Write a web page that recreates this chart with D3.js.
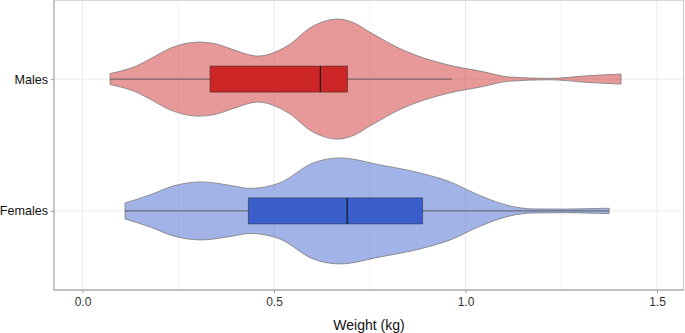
<!DOCTYPE html>
<html><head><meta charset="utf-8">
<script src="https://cdn.jsdelivr.net/npm/d3@7"></script>
<style>body{margin:0;background:#fff}svg{display:block;font-family:"Liberation Sans",Arial,sans-serif}</style>
</head><body><svg id="c" width="685" height="333"></svg>
<script>
const groups = ["Males", "Females"];
const xTicks = [0, 0.5, 1.0, 1.5];
const xMinor = [0.25, 0.75, 1.25];
// violin density profiles: weight (kg) and relative density
const malesWeight  = [0.072,0.10,0.132,0.176,0.23,0.304,0.35,0.393,0.458,0.534,0.602,0.667,0.71,0.75,0.837,0.951,1.045,1.116,1.22,1.325,1.406];
const malesDensity = [0.22,0.32,0.47,0.80,1.24,1.48,1.40,1.18,0.92,1.32,2.12,2.40,2.24,1.88,1.16,0.58,0.30,0.08,0.028,0.14,0.20];
const femalesWeight  = [0.111,0.176,0.237,0.311,0.394,0.437,0.515,0.602,0.672,0.777,0.881,0.96,1.04,1.116,1.177,1.264,1.333,1.375];
const femalesDensity = [0.32,0.64,1.00,1.16,1.00,0.90,1.12,1.92,2.12,1.84,1.52,1.16,0.60,0.20,0.08,0.072,0.092,0.108];
// box stats: [min, q1, median, q3, max]
const malesBox   = [0.072, 0.333, 0.621, 0.692, 0.964];
const femalesBox = [0.111, 0.433, 0.691, 0.888, 1.375];

const violins = {Males: {w: malesWeight, d: malesDensity, box: malesBox, color: "#cd2626"},
                 Females: {w: femalesWeight, d: femalesDensity, box: femalesBox, color: "#3a5fcd"}};

const svg = d3.select("#c");
const L = 54, R = 684, T = 0, B = 290;
const x = d3.scaleLinear().domain([0, 1.5]).range([82.5, 657]);
const y = d3.scalePoint().domain(groups).range([T, B]).padding(0.6);
const wScale = d3.scaleLinear().domain([0, 2.4]).range([0, 60]);

// panel grid
const g = svg.append("g");
g.selectAll(".minor").data(xMinor).join("line")
  .attr("x1", d => x(d)).attr("x2", d => x(d)).attr("y1", T).attr("y2", B)
  .attr("stroke", "#f3f3f3").attr("stroke-width", 1);
g.selectAll(".major").data(xTicks).join("line")
  .attr("x1", d => x(d)).attr("x2", d => x(d)).attr("y1", T).attr("y2", B)
  .attr("stroke", "#ebebeb").attr("stroke-width", 1);
g.selectAll(".hg").data(groups).join("line")
  .attr("x1", L).attr("x2", R).attr("y1", d => y(d)).attr("y2", d => y(d))
  .attr("stroke", "#ebebeb").attr("stroke-width", 1);
// panel border top/right
svg.append("line").attr("x1", L).attr("x2", R).attr("y1", T + 0.5).attr("y2", T + 0.5).attr("stroke", "#d9d9d9");
svg.append("line").attr("x1", R - 0.5).attr("x2", R - 0.5).attr("y1", T).attr("y2", B).attr("stroke", "#c8c8c8");

// violins + boxes
groups.forEach(name => {
  const v = violins[name];
  const pts = v.w.map((w, i) => ({w, d: v.d[i]}));
  const cy = y(name);
  const area = d3.area().curve(d3.curveMonotoneX)
    .x(p => x(p.w)).y0(p => cy + wScale(p.d)).y1(p => cy - wScale(p.d));
  svg.append("path").attr("d", area(pts))
    .attr("fill", v.color).attr("fill-opacity", 0.47)
    .attr("stroke", "#7a7a7a").attr("stroke-width", 0.8);
  const [mn, q1, md, q3, mx] = v.box;
  svg.append("line").attr("x1", x(mn)).attr("x2", x(mx)).attr("y1", cy).attr("y2", cy)
    .attr("stroke", "#555").attr("stroke-width", 0.9);
  svg.append("rect").attr("x", x(q1)).attr("y", cy - 13).attr("width", x(q3) - x(q1)).attr("height", 26)
    .attr("fill", v.color).attr("stroke", "#222").attr("stroke-opacity", 0.55).attr("stroke-width", 0.9);
  svg.append("line").attr("x1", x(md)).attr("x2", x(md)).attr("y1", cy - 13).attr("y2", cy + 13)
    .attr("stroke", "#111").attr("stroke-width", 1.1);
});

// axes
const xa = svg.append("g").attr("transform", `translate(0,${B})`)
  .call(d3.axisBottom(x).tickValues(xTicks).tickFormat(d3.format(".1f")).tickSize(3).tickPadding(4));
xa.select(".domain").remove();
xa.selectAll(".tick line").attr("stroke", "#999");
xa.selectAll(".tick text").attr("fill", "#333").attr("font-size", 12).attr("font-family", "Liberation Sans, Arial, sans-serif");
const ya = svg.append("g").attr("transform", `translate(${L},0)`)
  .call(d3.axisLeft(y).tickSize(3).tickPadding(3));
ya.select(".domain").remove();
ya.selectAll(".tick line").attr("stroke", "#999");
ya.selectAll(".tick text").attr("fill", "#111").attr("font-size", 12.6).attr("font-family", "Liberation Sans, Arial, sans-serif");
svg.append("line").attr("x1", L).attr("x2", L).attr("y1", T).attr("y2", B + 0.5).attr("stroke", "#aaa").attr("stroke-width", 1.3);
svg.append("line").attr("x1", L).attr("x2", R).attr("y1", B).attr("y2", B).attr("stroke", "#aaa").attr("stroke-width", 1.3);

svg.append("text").attr("x", (L + R) / 2).attr("y", 330).attr("text-anchor", "middle")
  .attr("font-size", 14).attr("fill", "#111").text("Weight (kg)");
</script></body></html>
